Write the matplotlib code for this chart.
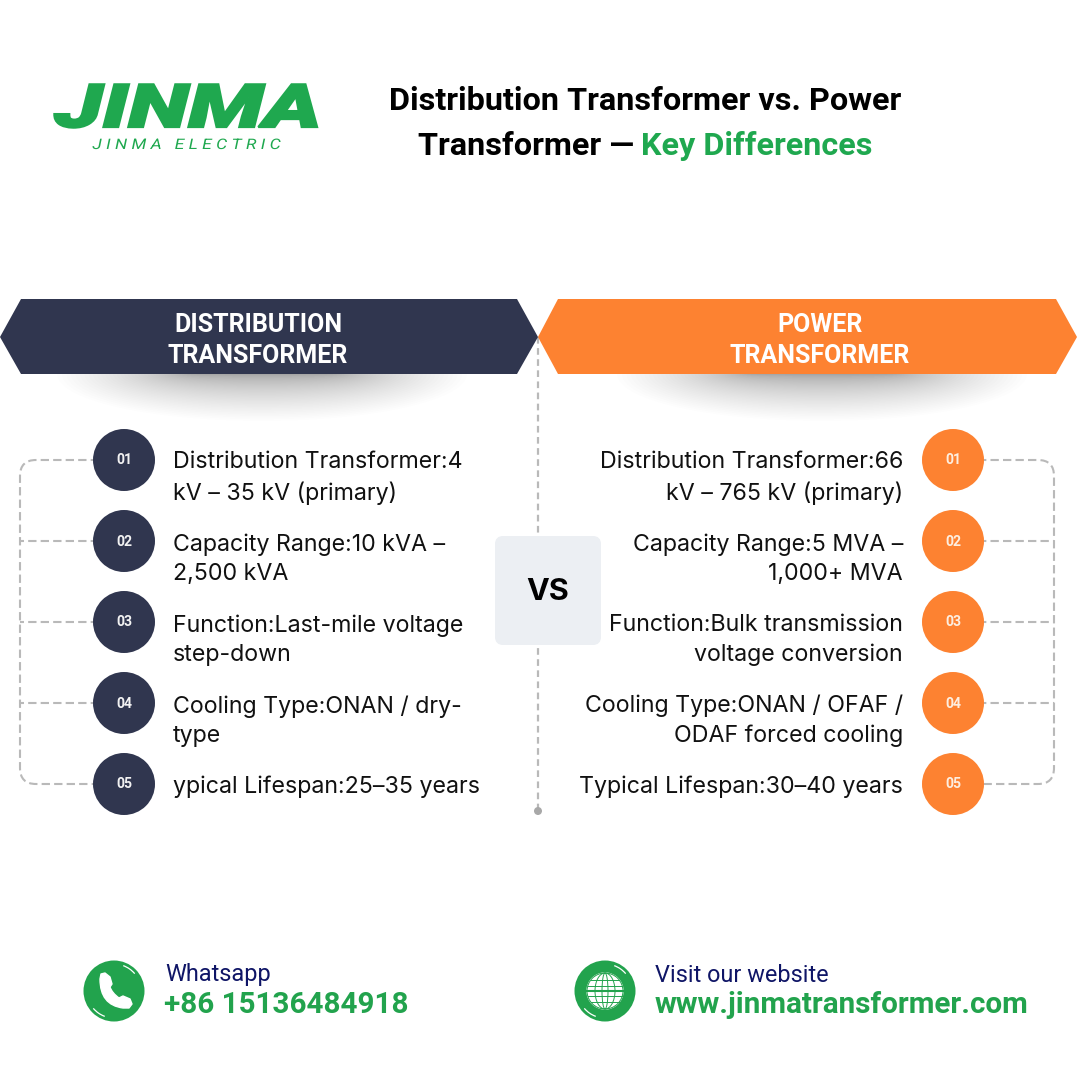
import numpy as np
import matplotlib
matplotlib.use("Agg")
import matplotlib.pyplot as plt
from matplotlib.patches import Polygon, Circle, Ellipse, FancyBboxPatch, PathPatch, Arc
from matplotlib.path import Path
from matplotlib.patheffects import AbstractPathEffect
from matplotlib.transforms import Affine2D

# ---- content ----
title_line1 = "Distribution Transformer vs. Power"
title_line2_a = "Transformer —"
title_line2_b = "Key Differences"
logo_main = "JINMA"
logo_sub = "J I N M A   E L E C T R I C"
left_head = "DISTRIBUTION\nTRANSFORMER"
right_head = "POWER\nTRANSFORMER"
numbers = ["01", "02", "03", "04", "05"]
left_items = ["Distribution Transformer:4\nkV – 35 kV (primary)",
              "Capacity Range:10 kVA –\n2,500 kVA",
              "Function:Last-mile voltage\nstep-down",
              "Cooling Type:ONAN / dry-\ntype",
              "ypical Lifespan:25–35 years"]
right_items = ["Distribution Transformer:66\nkV – 765 kV (primary)",
               "Capacity Range:5 MVA –\n1,000+ MVA",
               "Function:Bulk transmission\nvoltage conversion",
               "Cooling Type:ONAN / OFAF /\nODAF forced cooling",
               "Typical Lifespan:30–40 years"]
contact_labels = ["Whatsapp", "Visit our website"]
contact_values = ["+86 15136484918", "www.jinmatransformer.com"]

NAVY = "#30364f"
ORANGE = "#fd8231"
GREEN = "#1fa84f"
GREEN2 = "#22a34d"
DASH = "#b9b9b9"
INK = "#111111"
LINK = "#0f1566"

fig = plt.figure(figsize=(10.8, 10.8), dpi=100, facecolor="white")
ax = fig.add_axes([0, 0, 1, 1])
ax.set_xlim(0, 1080)
ax.set_ylim(1080, 0)
ax.axis("off")
PX = 72 / 100


class Stretch(AbstractPathEffect):
    """Widen a text horizontally about a pixel column; the text stays text."""
    def __init__(self, cx, sx, stroke=0.0):
        super().__init__()
        self.cx, self.sx, self.stroke = cx, sx, stroke

    def draw_path(self, renderer, gc, tpath, affine, rgbFace=None):
        extra = Affine2D().translate(-self.cx, 0).scale(self.sx, 1).translate(self.cx, 0)
        if self.stroke:
            gc0 = renderer.new_gc()
            gc0.copy_properties(gc)
            gc0.set_linewidth(self.stroke)
            gc0.set_foreground(rgbFace)
            gc0.set_joinstyle("miter")
            renderer.draw_path(gc0, tpath, affine + extra, rgbFace)
            gc0.restore()
        else:
            renderer.draw_path(gc, tpath, affine + extra, rgbFace)


def T(x, y, s, size, **kw):
    kw.setdefault("va", "center")
    kw.setdefault("ha", "center")
    kw.setdefault("family", "Roboto")
    return ax.text(x, y, s, fontsize=size * PX, **kw)

# logo
T(188, 110, logo_main, 60, color=GREEN, weight="black", style="italic", zorder=5,
  path_effects=[Stretch(188, 1.47, stroke=1.6)])
T(186, 145, logo_sub, 14.5, color=GREEN, style="italic", weight="normal", zorder=5,
  path_effects=[Stretch(186, 1.21)])

# title
T(645, 101, title_line1, 32.4, color="black", weight="bold")
T(418, 146, title_line2_a, 32.4, color="black", weight="bold", ha="left")
T(641, 146, title_line2_b, 32.4, color=GREEN, weight="bold", ha="left")

# header shadows
for cx, w in [(262, 410), (822, 410)]:
    for t in np.linspace(0.05, 1, 46):
        k = t ** 1.7
        ax.add_patch(Ellipse((cx, 374), w * (0.35 + 0.65 * k), 94 * k, fc="black",
                             ec="none", alpha=0.0075, zorder=1))

# header banners
ax.add_patch(Polygon([(0, 337), (21, 299), (517, 299), (538, 337), (517, 374), (21, 374)],
                     closed=True, fc=NAVY, ec="none", zorder=3))
ax.add_patch(Polygon([(538, 337), (558, 299), (1056, 299), (1077, 337), (1056, 374), (558, 374)],
                     closed=True, fc=ORANGE, ec="none", zorder=3))
T(258, 340.5, left_head, 25, color="white", weight="bold", zorder=4, linespacing=1.38)
T(820, 340.5, right_head, 25, color="white", weight="bold", zorder=4, linespacing=1.38)

# centre dashed line
ax.plot([538, 538], [337, 811], color=DASH, lw=1.6, ls=(0, (3, 2)), zorder=2)
ax.add_patch(Circle((538, 811), 4, fc="#a8a8a8", ec="none", zorder=2))

# VS box
ax.add_patch(FancyBboxPatch((498, 539), 100, 103, boxstyle="round,pad=0,rounding_size=5",
                            fc="#eceff3", ec="#eceff3", lw=6 * PX, zorder=3))
T(548, 592.5, "VS", 30.5, color="black", weight="bold", family="Inter", zorder=4)

# rows
ys = [460, 541, 622, 703, 784]
R = 31
text_ys = [478, 559, 640, 721, 787]
dash = dict(color=DASH, lw=1.5, ls=(0, (4, 2)), zorder=2)


def bracket(x_circle, x_rail):
    s = 1 if x_rail > x_circle else -1
    verts = [(x_circle, ys[0]), (x_rail - s * 16, ys[0]), (x_rail, ys[0]), (x_rail, ys[0] + 16),
             (x_rail, ys[-1] - 16), (x_rail, ys[-1]), (x_rail - s * 16, ys[-1]), (x_circle, ys[-1])]
    codes = [Path.MOVETO, Path.LINETO, Path.CURVE3, Path.CURVE3, Path.LINETO, Path.CURVE3, Path.CURVE3, Path.LINETO]
    ax.add_patch(PathPatch(Path(verts, codes), fc="none", ec=DASH, lw=1.5, ls=(0, (4, 2)), zorder=2))
    for y in ys[1:-1]:
        ax.plot([x_circle, x_rail], [y, y], **dash)


bracket(124, 20)
bracket(953, 1054)

for y, ty, n, a, b in zip(ys, text_ys, numbers, left_items, right_items):
    ax.add_patch(Circle((124, y), R, fc=NAVY, ec="none", zorder=3))
    ax.add_patch(Circle((953, y), R, fc=ORANGE, ec="none", zorder=3))
    T(124, y + 0.5, n, 14, color="#f2f2f2", weight="bold", family="Roboto", zorder=4)
    T(953, y + 0.5, n, 14, color="#fdeee0", weight="bold", family="Roboto", zorder=4)
    T(173, ty, a, 23.2, color=INK, ha="left", family="Inter", linespacing=1.43)
    T(903, ty, b, 23.2, color=INK, ha="right", family="Inter", multialignment="right", linespacing=1.43)

# contact icons
ax.add_patch(Ellipse((114, 991), 61, 61, fc=GREEN2, ec="none", zorder=3))
ax.add_patch(Ellipse((605, 991), 61, 61, fc=GREEN2, ec="none", zorder=3))
for cx in (114, 605):
    ax.add_patch(Arc((cx, 991), 54, 54, theta1=-70, theta2=-40, ec="white", lw=0.9, zorder=4))
    ax.add_patch(Arc((cx, 991), 54, 54, theta1=110, theta2=140, ec="white", lw=0.9, zorder=4))
# handset
phone = Path([(100, 979), (100, 1005), (123, 1008), (129, 1008), (132, 1004), (130, 999),
              (123, 996), (119, 998), (112, 993), (110, 987), (112, 984), (110, 977),
              (105, 973), (101, 974), (100, 979)],
             [Path.MOVETO, Path.CURVE3, Path.CURVE3, Path.LINETO, Path.LINETO, Path.LINETO,
              Path.LINETO, Path.LINETO, Path.CURVE3, Path.CURVE3, Path.LINETO, Path.LINETO,
              Path.LINETO, Path.LINETO, Path.CLOSEPOLY])
ax.add_patch(PathPatch(phone, fc="white", ec="white", lw=1, joinstyle="round", zorder=4))
# globe
gx, gy, gr = 605, 991, 18
ax.add_patch(Circle((gx, gy), gr, fc="white", ec="white", zorder=4))
for w in [36, 20, 6]:
    ax.add_patch(Ellipse((gx, gy), w, 36, fc="none", ec=GREEN2, lw=0.7, zorder=5))
for dy, half in [(-11, 14), (-5, 17), (0, 18), (5, 17), (11, 14)]:
    ax.plot([gx - half, gx + half], [gy + dy, gy + dy], color=GREEN2, lw=0.7 if dy else 1.5, zorder=5)

# contact text
T(165, 975, contact_labels[0], 23.5, color=LINK, ha="left")
T(655, 975, contact_labels[1], 23.5, color=LINK, ha="left")
T(164, 1005, contact_values[0], 29.6, color=GREEN2, ha="left", weight="bold")
T(655, 1005, contact_values[1], 29.6, color=GREEN2, ha="left", weight="bold")

fig.savefig("out.png", dpi=100, facecolor="white")
